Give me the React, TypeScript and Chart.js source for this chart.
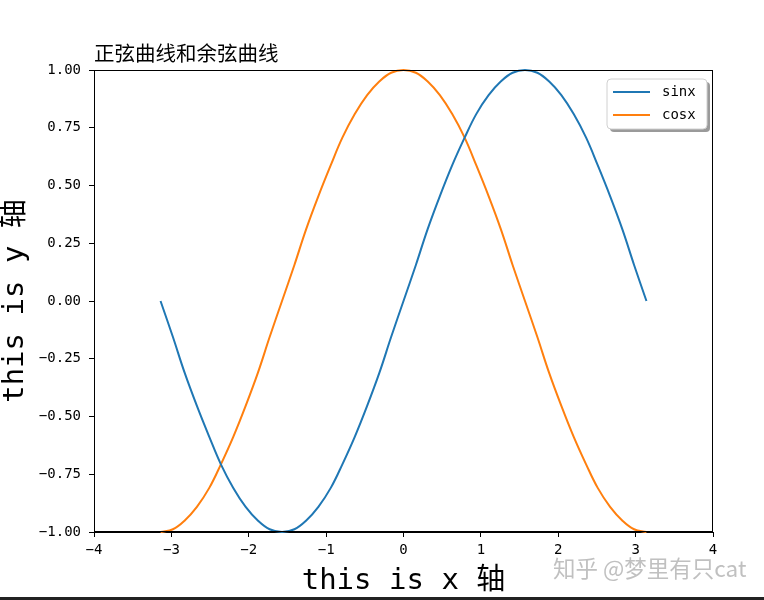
import React, { useEffect, useRef } from "react";
import { Chart, registerables } from "chart.js";

Chart.register(...registerables);

const xValues = [
  -3.14, -2.98, -2.83, -2.67, -2.51, -2.36, -2.2, -2.04, -1.88, -1.73, -1.57,
  -1.41, -1.26, -1.1, -0.94, -0.79, -0.63, -0.47, -0.31, -0.16, 0, 0.16, 0.31,
  0.47, 0.63, 0.79, 0.94, 1.1, 1.26, 1.41, 1.57, 1.73, 1.88, 2.04, 2.2, 2.36,
  2.51, 2.67, 2.83, 2.98, 3.14,
];
const sinValues = [
  0, -0.156, -0.309, -0.454, -0.588, -0.707, -0.809, -0.891, -0.951, -0.988, -1,
  -0.988, -0.951, -0.891, -0.809, -0.707, -0.588, -0.454, -0.309, -0.156, 0,
  0.156, 0.309, 0.454, 0.588, 0.707, 0.809, 0.891, 0.951, 0.988, 1, 0.988,
  0.951, 0.891, 0.809, 0.707, 0.588, 0.454, 0.309, 0.156, 0,
];
const cosValues = [
  -1, -0.988, -0.951, -0.891, -0.809, -0.707, -0.588, -0.454, -0.309, -0.156, 0,
  0.156, 0.309, 0.454, 0.588, 0.707, 0.809, 0.891, 0.951, 0.988, 1, 0.988,
  0.951, 0.891, 0.809, 0.707, 0.588, 0.454, 0.309, 0.156, 0, -0.156, -0.309,
  -0.454, -0.588, -0.707, -0.809, -0.891, -0.951, -0.988, -1,
];
const seriesNames = ["sinx", "cosx"];
const seriesColors = ["#1f77b4", "#ff7f0e"];
const titleText = "正弦曲线和余弦曲线";
const xTitle = "this is x 轴";
const yTitle = "this is y 轴";
const watermark = "知乎 @梦里有只cat";

const MONO = "'DejaVu Sans Mono', 'Noto Sans CJK SC', monospace";
const CJK = "'Noto Sans CJK SC', sans-serif";

const minus = (s: string) => s.replace("-", "\u2212");

const decorPlugin = {
  id: "decor",
  afterDraw(chart: any) {
    const ctx = chart.ctx as CanvasRenderingContext2D;
    const a = chart.chartArea;
    ctx.save();
    // frame
    ctx.strokeStyle = "#000";
    ctx.lineWidth = 1;
    ctx.strokeRect(a.left + 0.5, a.top + 0.5, a.right - a.left - 1, a.bottom - a.top - 1);
    // title
    ctx.fillStyle = "#000";
    ctx.font = `20.5px ${CJK}`;
    ctx.textAlign = "left";
    ctx.textBaseline = "middle";
    ctx.fillText(titleText, a.left, 53);
    // axis titles
    ctx.font = `29px ${MONO}`;
    ctx.textAlign = "center";
    ctx.fillText(xTitle, (a.left + a.right) / 2, 581);
    ctx.save();
    ctx.translate(15, (a.top + a.bottom) / 2);
    ctx.rotate(-Math.PI / 2);
    ctx.fillText(yTitle, 0, 0);
    ctx.restore();
    // legend
    const bx = 607, by = 79, bw = 100, bh = 50, r = 4;
    const rr = (x: number, y: number) => {
      ctx.beginPath();
      ctx.moveTo(x + r, y);
      ctx.lineTo(x + bw - r, y);
      ctx.quadraticCurveTo(x + bw, y, x + bw, y + r);
      ctx.lineTo(x + bw, y + bh - r);
      ctx.quadraticCurveTo(x + bw, y + bh, x + bw - r, y + bh);
      ctx.lineTo(x + r, y + bh);
      ctx.quadraticCurveTo(x, y + bh, x, y + bh - r);
      ctx.lineTo(x, y + r);
      ctx.quadraticCurveTo(x, y, x + r, y);
      ctx.closePath();
    };
    rr(bx + 3, by + 3);
    ctx.fillStyle = "rgba(120,120,120,0.75)";
    ctx.fill();
    rr(bx, by);
    ctx.fillStyle = "#fff";
    ctx.fill();
    ctx.strokeStyle = "#d0d0d0";
    ctx.lineWidth = 1;
    ctx.stroke();
    chart.data.datasets.forEach((ds: any, i: number) => {
      const y = 92 + i * 23;
      ctx.strokeStyle = ds.borderColor;
      ctx.lineWidth = 2;
      ctx.beginPath();
      ctx.moveTo(613, y);
      ctx.lineTo(650, y);
      ctx.stroke();
      ctx.fillStyle = "#000";
      ctx.font = `14px ${MONO}`;
      ctx.textAlign = "left";
      ctx.textBaseline = "middle";
      ctx.fillText(ds.label, 662, y);
    });
    // watermark
    ctx.fillStyle = "rgba(185,185,185,0.9)";
    ctx.font = `22.5px ${CJK}`;
    ctx.textAlign = "left";
    ctx.textBaseline = "middle";
    ctx.fillText(watermark, 553, 568);
    // bottom dark strip
    ctx.fillStyle = "#222";
    ctx.fillRect(0, 597, chart.width, 3);
    ctx.restore();
  },
};

export default function App() {
  const ref = useRef<HTMLCanvasElement | null>(null);
  useEffect(() => {
    document.body.style.margin = "0";
    const canvas = ref.current!;
    const chart = new Chart(canvas, {
      type: "line",
      data: {
        datasets: [sinValues, cosValues].map((vals, i) => ({
          label: seriesNames[i],
          data: xValues.map((x, j) => ({ x, y: vals[j] })),
          borderColor: seriesColors[i],
          backgroundColor: seriesColors[i],
          borderWidth: 2,
          pointRadius: 0,
          tension: 0.4,
          clip: false as any,
          fill: false,
        })),
      },
      options: {
        responsive: false,
        animation: false,
        devicePixelRatio: 1,
        layout: { padding: { top: 70, right: 51, left: 0, bottom: 0 } },
        plugins: {
          legend: { display: false },
          title: { display: false },
          tooltip: { enabled: false },
        },
        scales: {
          x: {
            type: "linear",
            min: -4,
            max: 4,
            afterFit: (s: any) => {
              s.height = 68;
            },
            ticks: {
              stepSize: 1,
              color: "#000",
              padding: 5,
              font: { family: MONO, size: 14 },
              callback: (v: any) => minus(String(v)),
            },
            grid: {
              display: true,
              drawOnChartArea: false,
              drawTicks: true,
              tickLength: 5,
              color: "#000",
            },
            border: { display: true, color: "#000" },
          },
          y: {
            type: "linear",
            min: -1,
            max: 1,
            afterFit: (s: any) => {
              s.width = 94;
            },
            ticks: {
              stepSize: 0.25,
              color: "#000",
              padding: 8,
              font: { family: MONO, size: 14 },
              callback: (v: any) => minus(Number(v).toFixed(2)),
            },
            grid: {
              display: true,
              drawOnChartArea: false,
              drawTicks: true,
              tickLength: 5,
              color: "#000",
            },
            border: { display: true, color: "#000" },
          },
        },
      },
      plugins: [decorPlugin],
    });
    return () => chart.destroy();
  }, []);
  return (
    <div style={{ position: "absolute", left: 0, top: 0, width: 764, height: 600, background: "#fff" }}>
      <canvas ref={ref} width={764} height={600} style={{ display: "block", width: 764, height: 600 }} />
    </div>
  );
}
